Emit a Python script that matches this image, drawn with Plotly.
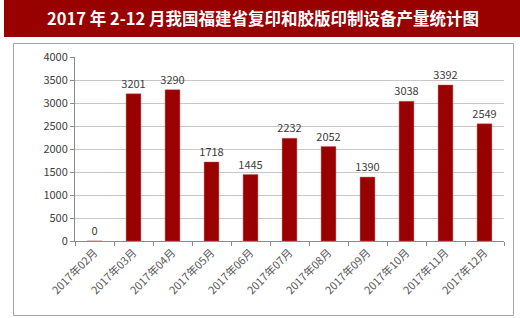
import plotly.graph_objects as go

categories = ["2017年02月", "2017年03月", "2017年04月", "2017年05月", "2017年06月",
              "2017年07月", "2017年08月", "2017年09月", "2017年10月", "2017年11月", "2017年12月"]
values = [0, 3201, 3290, 1718, 1445, 2232, 2052, 1390, 3038, 3392, 2549]
title_text = "2017 年 2-12 月我国福建省复印和胶版印制设备产量统计图"
y_ticks = [0, 500, 1000, 1500, 2000, 2500, 3000, 3500, 4000]

W, H = 520, 318
L, R, T, B = 75, 16, 57, 77
pw, ph = W - L - R, H - T - B

def px(x):
    return (x - L) / pw

def py(y):
    return (H - B - y) / ph

font_cjk = "Noto Sans CJK SC, Microsoft YaHei, sans-serif"

fig = go.Figure()
fig.add_trace(go.Bar(
    x=categories, y=values,
    marker=dict(color="#990000", line=dict(color="rgba(210,90,90,0.7)", width=0.6)),
    text=[str(v) for v in values], textposition="outside",
    textfont=dict(family=font_cjk, size=11, color="#404040"),
    constraintext="none",
    cliponaxis=False,
))

fig.update_layout(
    width=W, height=H,
    margin=dict(l=L, r=R, t=T, b=B),
    paper_bgcolor="white", plot_bgcolor="white",
    bargap=0.62,
    uniformtext=dict(mode=False),
    showlegend=False,
    shapes=[
        dict(type="rect", xref="paper", yref="paper",
             x0=px(4), x1=px(521), y0=py(37), y1=py(-1),
             fillcolor="#990000", line=dict(width=0), layer="below"),
        dict(type="rect", xref="paper", yref="paper",
             x0=px(13.5), x1=px(513.5), y0=py(315.5), y1=py(43.5),
             fillcolor="rgba(0,0,0,0)", line=dict(color="#a6a6a6", width=1), layer="below"),
    ],
    annotations=[
        dict(text="<b>" + title_text + "</b>", xref="paper", yref="paper",
             x=px(263), y=py(18.5), xanchor="center", yanchor="middle", showarrow=False,
             font=dict(family=font_cjk, size=16.5, color="white")),
    ],
)

fig.update_xaxes(
    type="category", tickangle=-45,
    tickfont=dict(family=font_cjk, size=11, color="#595959"),
    showline=True, linecolor="#8c8c8c", linewidth=1,
    ticks="outside", tickson="boundaries", ticklen=4, tickcolor="#8c8c8c",
    showgrid=False,
)
fig.update_yaxes(
    range=[0, 4000], tickvals=y_ticks,
    tickfont=dict(family=font_cjk, size=11, color="#404040"),
    showline=True, linecolor="#8c8c8c", linewidth=1,
    ticks="outside", ticklen=4, tickcolor="#8c8c8c",
    showgrid=True, gridcolor="#c8c8c8", gridwidth=1,
    zeroline=False,
)

fig.write_html("out.html")
